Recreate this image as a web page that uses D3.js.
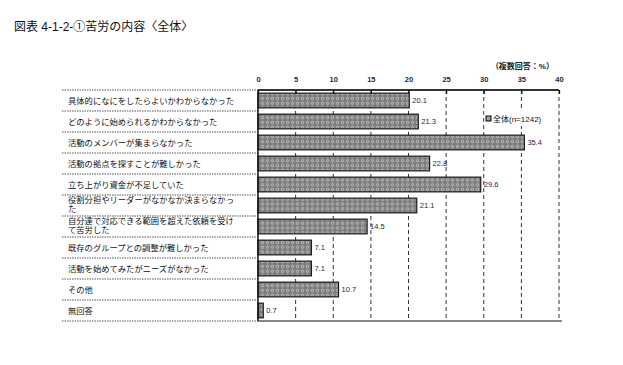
<!DOCTYPE html>
<html>
<head>
<meta charset="utf-8">
<script src="https://cdn.jsdelivr.net/npm/d3@7"></script>
<style>
  body { margin: 0; background: #fff; }
  svg { display: block; }
</style>
</head>
<body>
<script>
// Data
const categories = [
  "具体的になにをしたらよいかわからなかった",
  "どのように始められるかわからなかった",
  "活動のメンバーが集まらなかった",
  "活動の拠点を探すことが難しかった",
  "立ち上がり資金が不足していた",
  "役割分担やリーダーがなかなか決まらなかった",
  "自分達で対応できる範囲を超えた依頼を受けて苦労した",
  "既存のグループとの調整が難しかった",
  "活動を始めてみたがニーズがなかった",
  "その他",
  "無回答"
];
const values = [20.1, 21.3, 35.4, 22.8, 29.6, 21.1, 14.5, 7.1, 7.1, 10.7, 0.7];
const xTicks = [0, 5, 10, 15, 20, 25, 30, 35, 40];
const seriesName = "全体(n=1242)";
const title = "図表 4-1-2-①苦労の内容〈全体〉";
const unitNote = "（複数回答：%）";

const width = 623;
const height = 365;
const font = "'Liberation Sans', 'Noto Sans CJK JP', sans-serif";
const navy = "#1b1f4e";

const svg = d3.select("body").append("svg")
  .attr("width", width)
  .attr("height", height);

// pattern for the dotted bars
const defs = svg.append("defs");
const pat = defs.append("pattern")
  .attr("id", "dots")
  .attr("patternUnits", "userSpaceOnUse")
  .attr("width", 5)
  .attr("height", 4.8);
pat.append("rect").attr("width", 5).attr("height", 4.8).attr("fill", "#7d7d7d");
pat.append("circle").attr("cx", 2.5).attr("cy", 2.4).attr("r", 1.2)
  .attr("fill", "none").attr("stroke", "#cfcfcf").attr("stroke-width", 0.8);

// Scales
const xScale = d3.scaleLinear().domain([0, 40]).range([258, 559]);
const yScale = d3.scaleBand()
  .domain(categories)
  .range([90, 321])
  .paddingInner(0.3)
  .paddingOuter(0.15);

// Title
svg.append("text")
  .attr("x", 14).attr("y", 31)
  .attr("font-family", font)
  .attr("font-size", "12px")
  .attr("fill", "#111")
  .text(title);

// Unit note
svg.append("text")
  .attr("x", 554).attr("y", 69)
  .attr("text-anchor", "end")
  .attr("font-family", font)
  .attr("font-size", "8px")
  .attr("font-weight", "bold")
  .attr("fill", "#222")
  .text(unitNote);

// Row separators on the label side
const step = yScale.step();
const boundaries = d3.range(categories.length + 1).map((i) => yScale.range()[0] + i * step);
svg.append("g")
  .selectAll("line")
  .data(boundaries)
  .join("line")
  .attr("x1", 62)
  .attr("x2", xScale(0))
  .attr("y1", (d) => d)
  .attr("y2", (d) => d)
  .attr("stroke", "#555")
  .attr("stroke-width", 1.2)
  .attr("stroke-dasharray", "1.5,1");

// Dashed gridlines
svg.append("g")
  .selectAll("line")
  .data(xTicks.slice(1))
  .join("line")
  .attr("x1", (d) => xScale(d))
  .attr("x2", (d) => xScale(d))
  .attr("y1", yScale.range()[0])
  .attr("y2", yScale.range()[1])
  .attr("stroke", "#333")
  .attr("stroke-width", 1)
  .attr("stroke-dasharray", "4,3");

// Row labels (wrapped at 20 characters)
const labels = svg.append("g")
  .selectAll("text")
  .data(categories)
  .join("text")
  .attr("font-family", font)
  .attr("font-size", "8.3px")
  .attr("fill", "#111");
labels.each(function (d) {
  const lines = [];
  for (let i = 0; i < d.length; i += 20) lines.push(d.slice(i, i + 20));
  const cy = yScale(d) + yScale.bandwidth() / 2;
  const y0 = cy - ((lines.length - 1) * 9.5) / 2 + 3;
  d3.select(this)
    .selectAll("tspan")
    .data(lines)
    .join("tspan")
    .attr("x", 68)
    .attr("y", (l, i) => y0 + i * 9.5 - (lines.length > 1 ? 1 : 0))
    .text((l) => l);
});

// Bars
svg.append("g")
  .selectAll("rect")
  .data(values)
  .join("rect")
  .attr("x", xScale(0))
  .attr("y", (d, i) => yScale(categories[i]))
  .attr("width", (d) => xScale(d) - xScale(0))
  .attr("height", yScale.bandwidth())
  .attr("fill", "url(#dots)")
  .attr("stroke", "#1a1a1a")
  .attr("stroke-width", 1.2);

// Value labels
svg.append("g")
  .selectAll("text")
  .data(values)
  .join("text")
  .attr("x", (d) => xScale(d) + 3)
  .attr("y", (d, i) => yScale(categories[i]) + yScale.bandwidth() / 2 + 2.8)
  .attr("font-family", font)
  .attr("font-size", "7.5px")
  .attr("fill", navy)
  .text((d) => d.toFixed(1));

// Top axis
const xAxis = d3.axisTop(xScale).tickValues(xTicks).tickSize(-4).tickPadding(8);
const axisG = svg.append("g")
  .attr("transform", `translate(0, ${yScale.range()[0]})`)
  .call(xAxis);
axisG.select(".domain")
  .attr("d", `M${xScale(0)},0H${xScale(40)}`)
  .attr("stroke", "#333")
  .attr("stroke-width", 1.8);
axisG.selectAll(".tick line").attr("stroke", "#111").attr("stroke-width", 1.2);
axisG.selectAll(".tick text")
  .attr("font-family", font)
  .attr("font-size", "7.5px")
  .attr("font-weight", "bold")
  .attr("fill", navy);

// Vertical zero line
svg.append("line")
  .attr("x1", xScale(0)).attr("x2", xScale(0))
  .attr("y1", yScale.range()[0]).attr("y2", yScale.range()[1])
  .attr("stroke", "#111")
  .attr("stroke-width", 1.5);

// Bottom line
svg.append("line")
  .attr("x1", xScale(0)).attr("x2", xScale(40) + 3)
  .attr("y1", yScale.range()[1]).attr("y2", yScale.range()[1])
  .attr("stroke", "#111")
  .attr("stroke-width", 1.2);

// Legend (white box hides the gridline behind it)
const legend = svg.append("g").attr("transform", "translate(486, 116)");
legend.append("rect")
  .attr("x", -1.5).attr("y", -5)
  .attr("width", 58).attr("height", 15)
  .attr("fill", "#fff");
legend.append("rect")
  .attr("width", 5).attr("height", 5)
  .attr("fill", "url(#dots)")
  .attr("stroke", "#111")
  .attr("stroke-width", 1);
legend.append("text")
  .attr("x", 7).attr("y", 5.5)
  .attr("font-family", font)
  .attr("font-size", "8px")
  .attr("fill", "#111")
  .text(seriesName);
</script>
</body>
</html>
